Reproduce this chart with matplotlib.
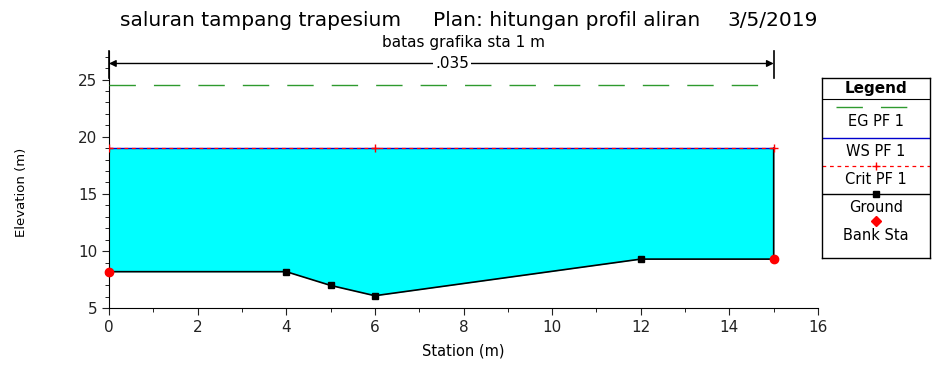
import matplotlib
matplotlib.use("Agg")
import matplotlib.pyplot as plt
from matplotlib.ticker import MultipleLocator
import numpy as np

plt.rcParams['font.family'] = ['DejaVu Sans']

# data
sta = [0, 4, 5, 6, 12, 15]
elev = [8.2, 8.2, 7.0, 6.1, 9.3, 9.3]
bank_sta = [0, 15]
bank_elev = [8.2, 9.3]
ws = 19.0
eg = 24.5
crit_sta = [0, 6, 15]
n_value = ".035"

fig = plt.figure(figsize=(9.33, 3.65), dpi=100)
ax = fig.add_axes([109/933, (365-308.3)/365, (818-109)/933, 257.4/365])

# water fill between ground and WS
ax.fill_between(sta, elev, ws, color='#00ffff', linewidth=0, zorder=1)

# ground with walls up to the water surface
g_x = [sta[0]] + sta + [sta[-1]]
g_y = [ws] + elev + [ws]
ax.plot(g_x, g_y, color='black', lw=1.2, zorder=3)
ax.plot(sta[1:-1], elev[1:-1], 's', color='black', ms=5, zorder=4)

# WS and crit
ax.plot([sta[0], sta[-1]], [ws, ws], color='#0000cc', lw=1.0, zorder=3)
ax.plot(crit_sta, [ws] * len(crit_sta), color='red', ls=(0, (3, 3)), lw=0.9,
        marker='+', ms=6, mew=1, zorder=4)

# EG
ax.plot([sta[0], sta[-1]], [eg, eg], color='#2e9a2e', lw=1.0, ls=(0, (19, 13)), zorder=3)

# bank stations
ax.plot(bank_sta, bank_elev, 'o', color='red', ms=6, ls='none', zorder=5, clip_on=False)

# Manning n bracket
ax.plot([sta[0], sta[0]], [25.1, 27.5], color='black', lw=1.2, clip_on=False)
ax.plot([sta[-1], sta[-1]], [25.1, 27.5], color='black', lw=1.2, clip_on=False)
ax.annotate('', xy=(sta[0], 26.4), xytext=(sta[-1], 26.4),
            arrowprops=dict(arrowstyle='<|-|>', color='black', lw=1.0,
                            mutation_scale=10, shrinkA=0, shrinkB=0))
ax.text(7.75, 26.4, n_value, ha='center', va='center', fontsize=11,
        bbox=dict(facecolor='white', edgecolor='none', pad=1.5), zorder=6)

ax.set_xlim(0, 16)
ax.set_ylim(5, 27.5)
ax.set_xticks(np.arange(0, 17, 2))
ax.set_yticks([5, 10, 15, 20, 25])
ax.xaxis.set_minor_locator(MultipleLocator(1))
ax.yaxis.set_minor_locator(MultipleLocator(1))
ax.tick_params(which='major', direction='out', length=5, labelsize=11, colors='#222222')
ax.tick_params(which='minor', direction='out', length=3)
for s in ['top', 'right']:
    ax.spines[s].set_visible(False)
ax.set_xlabel('Station (m)', fontsize=10.5, labelpad=6)
ax.set_ylabel('Elevation (m)', fontsize=9.5)
ax.yaxis.set_label_coords(-0.114, 0.45)

# titles
fig.text(120/933, 1 - 20/365, 'saluran tampang trapesium', fontsize=14.5, va='center')
fig.text(433/933, 1 - 20/365, 'Plan: hitungan profil aliran', fontsize=14.5, va='center')
fig.text(818/933, 1 - 20/365, '3/5/2019', fontsize=14.5, va='center', ha='right')
fig.text(463/933, 1 - 42/365, 'batas grafika sta 1 m', fontsize=11, va='center', ha='center')

# legend box in HEC-RAS style
lg = fig.add_axes([822/933, (365-258)/365, 108/933, 180/365])
lg.set_xlim(0, 108)
lg.set_ylim(258, 78)
lg.set_xticks([])
lg.set_yticks([])
for s in lg.spines.values():
    s.set_linewidth(1.0)
lg.text(54, 89, 'Legend', ha='center', va='center', fontsize=11, fontweight='bold')
lg.plot([0, 108], [99, 99], color='black', lw=0.8)
lg.plot([14, 94], [107, 107], color='#2e9a2e', lw=1.0, ls=(0, (19, 13)))
lg.text(54, 122, 'EG PF 1', ha='center', va='center', fontsize=10.5)
lg.plot([0, 108], [138, 138], color='#0000cc', lw=1.0)
lg.text(54, 151, 'WS PF 1', ha='center', va='center', fontsize=10.5)
lg.plot([0, 108], [166, 166], color='red', lw=0.9, ls=(0, (3, 3)))
lg.plot([54], [166], '+', color='red', ms=6, mew=1)
lg.text(54, 179, 'Crit PF 1', ha='center', va='center', fontsize=10.5)
lg.plot([0, 108], [194, 194], color='black', lw=1.0)
lg.plot([54], [194], 's', color='black', ms=5)
lg.text(54, 208, 'Ground', ha='center', va='center', fontsize=10.5)
lg.plot([54], [221], 'D', color='red', ms=5)
lg.text(54, 235, 'Bank Sta', ha='center', va='center', fontsize=10.5)

fig.savefig('out.png', dpi=100)
